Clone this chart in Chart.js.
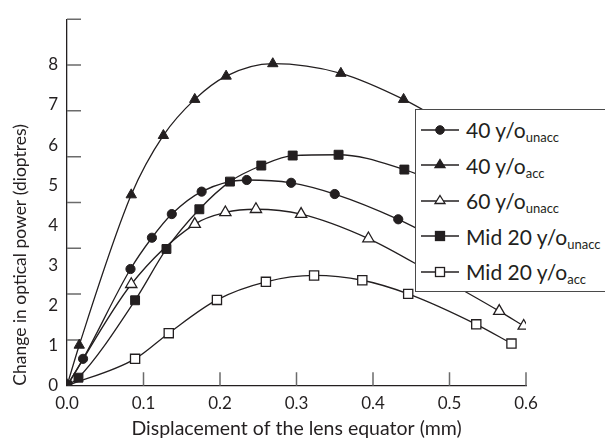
<!DOCTYPE html>
<html lang="en">
<head>
    <meta charset="UTF-8">
    <title>Change in optical power vs displacement of the lens equator</title>
    <!-- Chart.js -->
    <script src="https://cdn.jsdelivr.net/npm/chart.js@4.4.1/dist/chart.umd.min.js"></script>
    <style>
        html, body {
            margin: 0;
            padding: 0;
            background-color: #ffffff;
        }
        #wrap {
            position: relative;
            width: 605px;
            height: 442px;
            overflow: hidden;
            font-family: Lato, "DejaVu Sans", sans-serif;
            color: #231f20;
        }
        #legend {
            position: absolute;
            left: 415px;
            top: 109px;
            width: 230px;
            height: 183px;
            box-sizing: border-box;
            background-color: #ffffff;
            border: 1.5px solid #4a4a4a;
            padding-top: 2px;
        }
        #legend ul {
            list-style: none;
            margin: 0;
            padding: 0;
        }
        #legend li {
            height: 35.5px;
            display: flex;
            align-items: center;
            font-size: 21px;
            white-space: nowrap;
        }
        #legend svg {
            margin-left: 5px;
            margin-right: 7px;
            flex: none;
        }
        #legend sub {
            font-size: 13px;
            vertical-align: -4px;
            line-height: 0;
        }
    </style>
</head>
<body>
    <div id="wrap">
        <canvas id="powerChart" width="605" height="442"></canvas>
        <div id="legend"></div>
    </div>

    <script>
        // Tick values
        const xTicks = [0, 0.1, 0.2, 0.3, 0.4, 0.5, 0.6];
        const yLabels = [0, 1, 2, 3, 4, 5, 6, 7, 8];
        const yTickMarks = [0, 1, 2, 3, 4, 5, 6, 7, 8];

        // Series names (main part + subscript)
        const seriesNames = ['40 y/o', '40 y/o', '60 y/o', 'Mid 20 y/o', 'Mid 20 y/o'];
        const seriesSubs = ['unacc', 'acc', 'unacc', 'unacc', 'acc'];

        // 40 y/o unaccommodated
        const x40Unacc = [0, 0.021, 0.083, 0.111, 0.137, 0.176, 0.235, 0.293, 0.350, 0.433, 0.5];
        const y40Unacc = [0, 0.67, 2.91, 3.69, 4.28, 4.84, 5.13, 5.06, 4.78, 4.15, 3.5];

        // 40 y/o accommodated
        const x40Acc = [0, 0.016, 0.084, 0.126, 0.167, 0.208, 0.269, 0.358, 0.440, 0.5];
        const y40Acc = [0, 1.01, 4.76, 6.24, 7.14, 7.72, 8.03, 7.79, 7.14, 6.5];

        // 60 y/o unaccommodated
        const x60Unacc = [0, 0.084, 0.167, 0.207, 0.247, 0.306, 0.394, 0.48, 0.565, 0.597];
        const y60Unacc = [0, 2.53, 4.03, 4.32, 4.40, 4.28, 3.67, 2.78, 1.86, 1.49];

        // Mid 20 y/o unaccommodated
        const xMid20Unacc = [0, 0.015, 0.089, 0.130, 0.173, 0.213, 0.254, 0.295, 0.355, 0.441, 0.5];
        const yMid20Unacc = [0, 0.20, 2.13, 3.41, 4.40, 5.09, 5.49, 5.74, 5.76, 5.39, 4.95];

        // Mid 20 y/o accommodated
        const xMid20Acc = [0, 0.089, 0.133, 0.196, 0.260, 0.323, 0.386, 0.446, 0.535, 0.581];
        const yMid20Acc = [0, 0.67, 1.31, 2.14, 2.59, 2.75, 2.63, 2.29, 1.53, 1.05];

        const ink = '#231f20';

        function toPoints(xs, ys) {
            return xs.map((x, i) => ({ x: x, y: ys[i] }));
        }

        function makeSeries(i, xs, ys, style, filled, radius) {
            return {
                label: seriesNames[i] + ' ' + seriesSubs[i],
                data: toPoints(xs, ys),
                showLine: true,
                borderColor: ink,
                borderWidth: 1.3,
                cubicInterpolationMode: 'monotone',
                pointStyle: style,
                pointRadius: radius,
                pointBackgroundColor: filled ? ink : '#ffffff',
                pointBorderColor: ink,
                pointBorderWidth: filled ? 1 : 1.3
            };
        }

        const datasets = [
            makeSeries(0, x40Unacc, y40Unacc, 'circle', true, 4.6),
            makeSeries(1, x40Acc, y40Acc, 'triangle', true, 6),
            makeSeries(2, x60Unacc, y60Unacc, 'triangle', false, 6.5),
            makeSeries(3, xMid20Unacc, yMid20Unacc, 'rect', true, 6.3),
            makeSeries(4, xMid20Acc, yMid20Acc, 'rect', false, 6.5)
        ];

        const tickFont = { family: 'Lato, "DejaVu Sans", sans-serif', size: 17 };
        const xTitleFont = { family: 'Lato, "DejaVu Sans", sans-serif', size: 19.5 };
        const yTitleFont = { family: 'Lato, "DejaVu Sans", sans-serif', size: 17.5 };

        // Inward tick marks on both axes
        const tickMarks = {
            id: 'tickMarks',
            beforeDatasetsDraw(chart) {
                const { ctx, chartArea, scales } = chart;
                ctx.save();
                ctx.strokeStyle = '#6b6b6b';
                ctx.lineWidth = 1.5;
                ctx.beginPath();
                xTicks.forEach(v => {
                    if (v === 0) return;
                    const px = scales.x.getPixelForValue(v);
                    ctx.moveTo(px, chartArea.bottom);
                    ctx.lineTo(px, chartArea.bottom - 13.5);
                });
                yTickMarks.forEach(v => {
                    if (v === 0) return;
                    const py = scales.yt.getPixelForValue(v);
                    ctx.moveTo(chartArea.left, py);
                    ctx.lineTo(chartArea.left + 14, py);
                });
                ctx.stroke();
                ctx.restore();
            }
        };

        function markerSvg(ds) {
            const fill = ds.pointBackgroundColor;
            let shape = '';
            if (ds.pointStyle === 'circle') {
                shape = '<circle cx="19" cy="10" r="4.3" fill="' + fill + '" stroke="' + ink + '" stroke-width="1"/>';
            } else if (ds.pointStyle === 'triangle') {
                shape = '<polygon points="19,4.5 24,12.5 14,12.5" fill="' + fill + '" stroke="' + ink + '" stroke-width="1.3"/>';
            } else {
                shape = '<rect x="14.5" y="5.5" width="9" height="9" fill="' + fill + '" stroke="' + ink + '" stroke-width="1.3"/>';
            }
            return '<svg width="38" height="20" viewBox="0 0 38 20">' +
                '<line x1="0" y1="10" x2="38" y2="10" stroke="' + ink + '" stroke-width="1.3"/>' +
                shape + '</svg>';
        }

        // HTML legend so the subscripts stay real text
        const htmlLegend = {
            id: 'htmlLegend',
            afterUpdate(chart) {
                const box = document.getElementById('legend');
                const items = chart.data.datasets.map((ds, i) =>
                    '<li>' + markerSvg(ds) + '<span>' + seriesNames[i] +
                    '<sub>' + seriesSubs[i] + '</sub></span></li>');
                box.innerHTML = '<ul>' + items.join('') + '</ul>';
            }
        };

        const ctx = document.getElementById('powerChart').getContext('2d');
        const powerChart = new Chart(ctx, {
            type: 'scatter',
            data: { datasets: datasets },
            options: {
                responsive: false,
                animation: false,
                layout: {
                    padding: { left: 0, right: 79, top: 10, bottom: 0 }
                },
                plugins: {
                    legend: { display: false },
                    tooltip: { enabled: false }
                },
                scales: {
                    x: {
                        type: 'linear',
                        min: 0,
                        max: 0.6,
                        afterBuildTicks: s => { s.ticks = xTicks.map(v => ({ value: v })); },
                        afterFit: s => { s.height = 56.3; },
                        ticks: {
                            callback: v => v.toFixed(1),
                            padding: 8,
                            maxRotation: 0,
                            font: tickFont,
                            color: ink
                        },
                        grid: { drawOnChartArea: false, drawTicks: false },
                        border: { color: ink, width: 1.3 },
                        title: {
                            display: true,
                            text: 'Displacement of the lens equator (mm)',
                            font: xTitleFont,
                            color: ink,
                            padding: { top: 0, bottom: 2 }
                        }
                    },
                    y: {
                        type: 'linear',
                        min: 0,
                        max: 9.14,
                        afterBuildTicks: s => { s.ticks = yLabels.map(v => ({ value: v })); },
                        afterFit: s => { s.width = 67; },
                        ticks: {
                            padding: 9,
                            font: tickFont,
                            color: ink
                        },
                        grid: { drawOnChartArea: false, drawTicks: false },
                        border: { color: ink, width: 1.3 },
                        title: {
                            display: true,
                            align: 'start',
                            text: 'Change in optical power (dioptres)',
                            font: yTitleFont,
                            color: ink,
                            padding: { top: 10, bottom: 0 }
                        }
                    },
                    yt: {
                        type: 'linear',
                        display: false,
                        position: 'left',
                        min: 0,
                        max: 8
                    }
                }
            },
            plugins: [tickMarks, htmlLegend]
        });
    </script>
</body>
</html>
